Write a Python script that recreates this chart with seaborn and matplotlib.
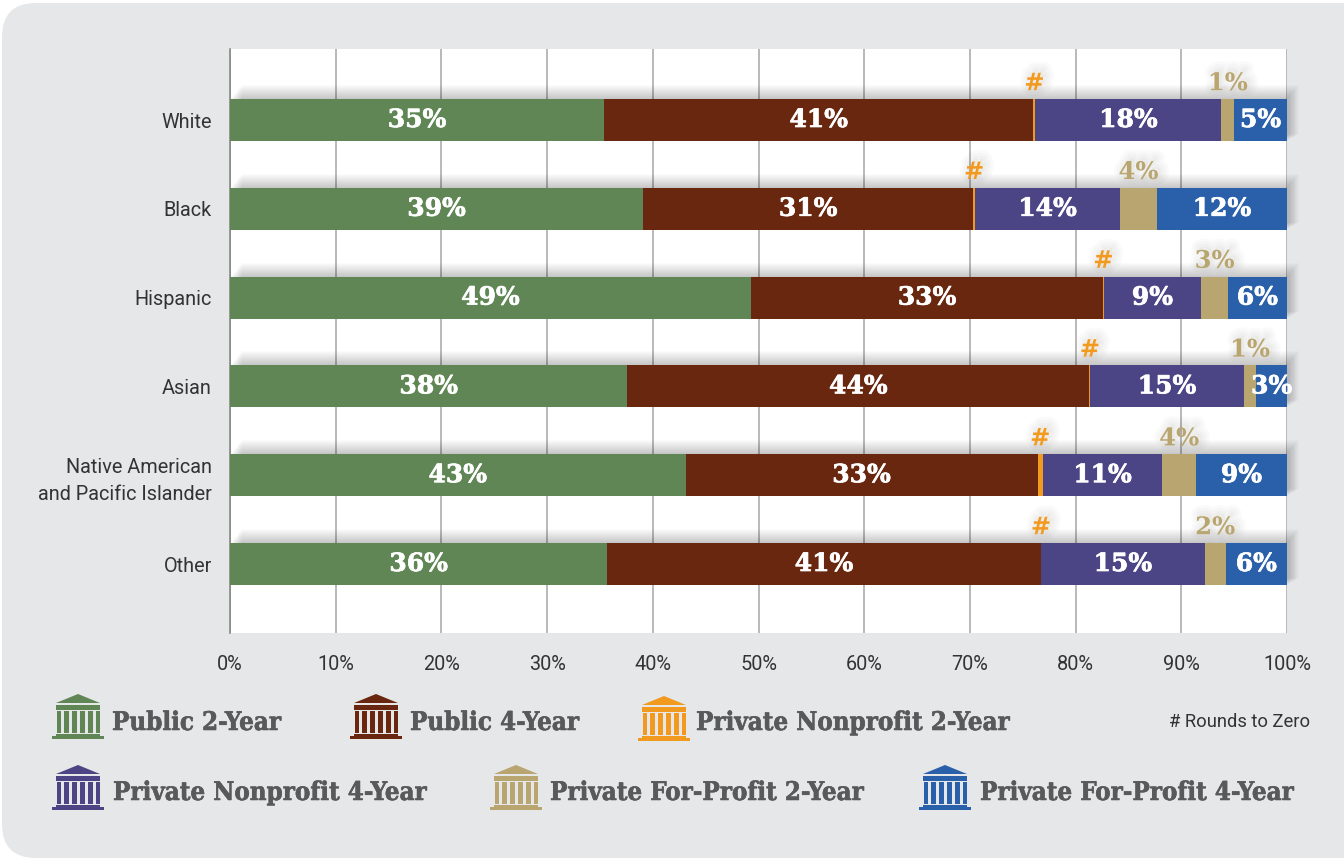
import numpy as np
import pandas as pd
import matplotlib
matplotlib.use("Agg")
import matplotlib.pyplot as plt
import matplotlib.patheffects as pe
from matplotlib.patches import FancyBboxPatch, Polygon, Rectangle
from matplotlib.font_manager import fontManager
import seaborn as sns

groups = ["White", "Black", "Hispanic", "Asian", "Native American\nand Pacific Islander", "Other"]
sectors = ["Public 2-Year", "Public 4-Year", "Private Nonprofit 2-Year",
           "Private Nonprofit 4-Year", "Private For-Profit 2-Year", "Private For-Profit 4-Year"]
colors = ["#5F8654", "#68270E", "#F29A1F", "#4B4585", "#B9A56F", "#2A5FA9"]

public_2yr = [35.4, 39.1, 49.3, 37.6, 43.1, 35.7]
public_4yr = [40.6, 31.2, 33.3, 43.7, 33.3, 41.0]
nonprofit_2yr = [0.2, 0.2, 0.05, 0.1, 0.5, 0.05]
nonprofit_4yr = [17.6, 13.7, 9.25, 14.5, 11.3, 15.45]
forprofit_2yr = [1.2, 3.5, 2.5, 1.2, 3.2, 2.0]
forprofit_4yr = [5.0, 12.3, 5.6, 2.9, 8.6, 5.8]

labels_public_2yr = ["35%", "39%", "49%", "38%", "43%", "36%"]
labels_public_4yr = ["41%", "31%", "33%", "44%", "33%", "41%"]
labels_nonprofit_2yr = ["#", "#", "#", "#", "#", "#"]
labels_nonprofit_4yr = ["18%", "14%", "9%", "15%", "11%", "15%"]
labels_forprofit_2yr = ["1%", "4%", "3%", "1%", "4%", "2%"]
labels_forprofit_4yr = ["5%", "12%", "6%", "3%", "9%", "6%"]

x_ticks = [0, 10, 20, 30, 40, 50, 60, 70, 80, 90, 100]

W, H = 1344, 858
BAR_PX, STEP_PX = 42, 88.8

sns.set_theme(style="white")
installed = {f.name for f in fontManager.ttflist}
narrow = "Liberation Sans Narrow" if "Liberation Sans Narrow" in installed else "Roboto"
plt.rcParams["font.family"] = [narrow, "DejaVu Sans"]
SLAB = dict(family="DejaVu Serif", weight="bold", stretch="condensed")
SLAB_WIDE = dict(family="DejaVu Serif", weight="bold")

fig = plt.figure(figsize=(W / 100, H / 100), dpi=100)
fig.patch.set_facecolor("white")

# page layer: grey panel, legend
bg = fig.add_axes([0, 0, 1, 1], zorder=0)
bg.set_xlim(0, W)
bg.set_ylim(H, 0)
bg.axis("off")
bg.add_patch(FancyBboxPatch((2 + 34, 3 + 34), W + 60 - 34 * 2, H - 3 - 34 * 2, boxstyle="round,pad=34,rounding_size=34",
                            fc="#E6E7E9", ec="none", clip_on=True))


def temple(x, y, color):
    bg.add_patch(Polygon([(x + 4, y + 9), (x + 26, y), (x + 48, y + 9)], fc=color, ec="none"))
    bg.add_patch(Rectangle((x + 4, y + 11), 44, 4.5, fc=color, ec="none"))
    for k in range(6):
        bg.add_patch(Rectangle((x + 4.6 + k * 7.8, y + 17), 4.8, 22, fc=color, ec="none"))
    bg.add_patch(Rectangle((x + 4, y + 39.5), 44, 2.5, fc=color, ec="none"))
    bg.add_patch(Rectangle((x, y + 42), 52, 3, fc=color, ec="none"))


legend_spots = [(52, 694, 112, 722.5), (350, 694, 410, 722.5), (638, 696, 696, 722.5),
                (52, 765, 113, 792.5), (490, 765, 550, 792.5), (919, 765, 980, 792.5)]
heavy = [pe.withStroke(linewidth=0.4, foreground="#58595B")]
for name, color, (ix, iy, tx, ty) in zip(sectors, colors, legend_spots):
    temple(ix, iy, color)
    bg.text(tx, ty, name, color="#58595B", fontsize=18.5, va="center", ha="left", path_effects=heavy, **SLAB)
bg.text(1310, 722, "# Rounds to Zero", color="#333333", fontsize=13.2, va="center", ha="right")

# chart
ax = fig.add_axes([230 / W, 1 - 633 / H, (1287 - 230) / W, (633 - 49) / H], zorder=1)
ax.set_facecolor("white")
ax.set_axisbelow(True)
ax.xaxis.grid(True, color="#A6A6A6", linewidth=1.1, zorder=2)
ax.yaxis.grid(False)

stack = [public_2yr, public_4yr, nonprofit_2yr, nonprofit_4yr, forprofit_2yr, forprofit_4yr]
text_sets = [labels_public_2yr, labels_public_4yr, labels_nonprofit_2yr,
             labels_nonprofit_4yr, labels_forprofit_2yr, labels_forprofit_4yr]

# soft shadow, up and to the right of each bar, fading at its left and bottom ends
totals = np.sum(stack, axis=0)
pos = np.arange(len(groups))
bar_h = BAR_PX / STEP_PX
for i in range(1, 15):
    grow = i / STEP_PX
    ax.barh(pos - 0.75 * grow, totals, left=i * 0.08, height=bar_h + 0.5 * grow, color="black",
            alpha=0.016, linewidth=0, zorder=1.5, clip_on=False)

running = np.zeros(len(groups))
for name, vals, color in zip(sectors, stack, colors):
    df = pd.DataFrame({"group": groups, "share": vals})
    sns.barplot(data=df, y="group", x="share", left=running, color=color, saturation=1,
                width=bar_h, linewidth=0, errorbar=None, ax=ax, zorder=3)
    running = running + np.array(vals)

glow = [pe.Stroke(linewidth=w, foreground="black", alpha=0.018, offset=(2, 2)) for w in (12, 8, 4)] + [pe.Normal()]
bold_white = [pe.withStroke(linewidth=0.5, foreground="white")]
lefts = np.cumsum([np.zeros(len(groups))] + stack[:-1], axis=0)
for j, (vals, texts) in enumerate(zip(stack, text_sets)):
    for i, txt in enumerate(texts):
        center = lefts[j][i] + vals[i] / 2
        if j in (2, 4):
            ax.annotate(txt, (center, i), xytext=(0, 26.5), textcoords="offset points", ha="center", va="center",
                        color=colors[j], fontsize=17.5, zorder=5, annotation_clip=False, path_effects=glow, **SLAB_WIDE)
        else:
            ax.annotate(txt, (center, i), xytext=(0, 0), textcoords="offset points", ha="center", va="center",
                        color="white", fontsize=18, zorder=5, annotation_clip=False, path_effects=bold_white, **SLAB_WIDE)

ax.set_xlim(0, 100)
ax.set_ylim(len(groups) - 1 + 69 / STEP_PX, -71 / STEP_PX)
ax.set_xticks(x_ticks)
ax.set_xticklabels([f"{t}%" for t in x_ticks])
ax.set_xlabel("")
ax.set_ylabel("")
ax.tick_params(axis="x", length=0, pad=16, labelsize=14.3, labelcolor="#333333")
ax.tick_params(axis="y", length=0, pad=13, labelsize=14.3, labelcolor="#333333")
for lab in ax.get_yticklabels():
    lab.set_linespacing(1.5)
for side in ["top", "right", "bottom"]:
    ax.spines[side].set_visible(False)
ax.spines["left"].set_color("#808080")
ax.spines["left"].set_linewidth(1.1)

fig.savefig("out.png", dpi=100)
